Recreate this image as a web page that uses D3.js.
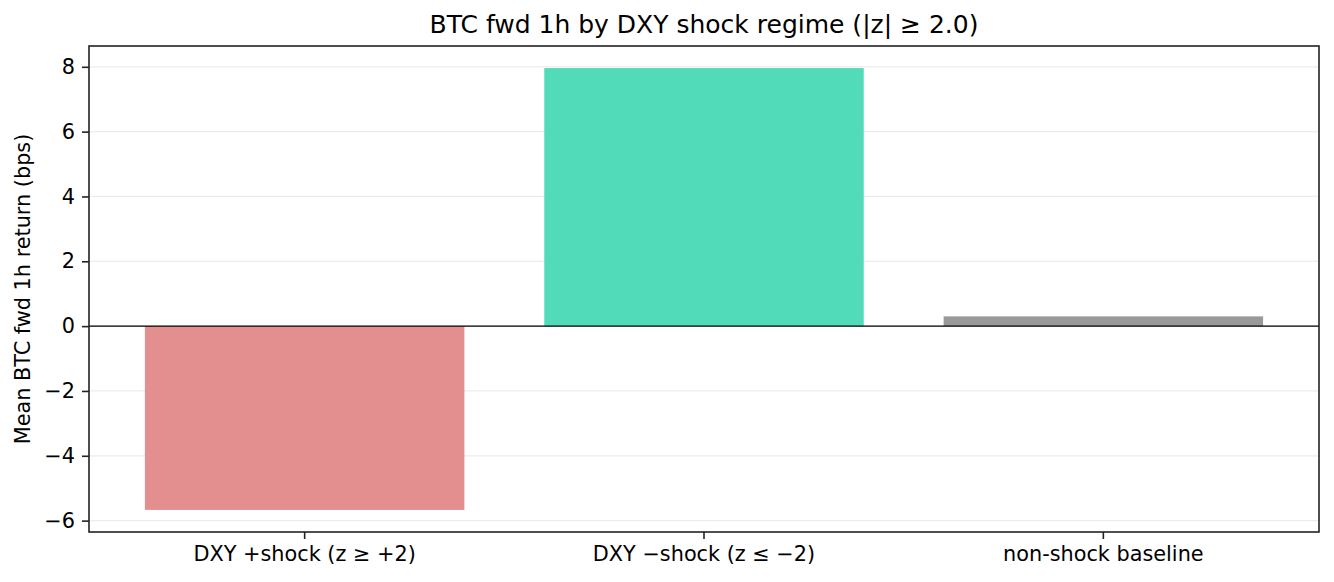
<!DOCTYPE html>
<html>
<head>
<meta charset="utf-8">
<script src="https://cdn.jsdelivr.net/npm/d3@7"></script>
<style>
  body { margin: 0; background: #fff; }
  text { font-family: "DejaVu Sans", sans-serif; fill: #000; }
</style>
</head>
<body>
<div id="chart"></div>
<script>
// regimes and their mean forward 1h BTC return (bps)
let categories = ["DXY +shock (z \u2265 +2)", "DXY \u2212shock (z \u2264 \u22122)", "non-shock baseline"];
let meanBps = [-5.67, 7.96, 0.30];
let barColors = ["#e38e8f", "#52dbb8", "#999999"];
let yTicks = [-6, -4, -2, 0, 2, 4, 6, 8];
let titleText = "BTC fwd 1h by DXY shock regime (|z| \u2265 2.0)";
let yLabel = "Mean BTC fwd 1h return (bps)";

function barChart() {
    let width = 1334, height = 582;
    let margin = {top: 46, right: 15, bottom: 50, left: 89};

    let svg = d3.select("#chart").append("svg")
                .attr("width", width)
                .attr("height", height);

    let data = categories.map(function(c, i) { return {cat: c, val: meanBps[i], color: barColors[i]} });

    // matplotlib-ish 5% margin on the value range
    let lo = d3.min(meanBps.concat([0])), hi = d3.max(meanBps.concat([0]));
    let pad = (hi - lo) * 0.05;

    let xScale = d3.scaleBand()
                   .domain(categories)
                   .range([margin.left, width - margin.right])
                   .paddingInner(0.2)
                   .paddingOuter(0.14);

    let yScale = d3.scaleLinear()
                   .domain([lo - pad, hi + pad])
                   .range([height - margin.bottom, margin.top]);

    /* grid */
    svg.append("g")
       .selectAll("line")
       .data(yTicks)
       .enter()
       .append("line")
       .attr("x1", margin.left)
       .attr("x2", width - margin.right)
       .attr("y1", function(d) { return yScale(d) })
       .attr("y2", function(d) { return yScale(d) })
       .attr("stroke", "#ececec")
       .attr("stroke-width", 1.3);

    /* bars */
    svg.append("g")
       .selectAll("rect")
       .data(data)
       .enter()
       .append("rect")
       .attr("x", function(d) { return xScale(d.cat) })
       .attr("width", xScale.bandwidth())
       .attr("y", function(d) { return yScale(Math.max(0, d.val)) })
       .attr("height", function(d) { return Math.abs(yScale(d.val) - yScale(0)) })
       .attr("fill", function(d) { return d.color });

    /* zero line */
    svg.append("line")
       .attr("x1", margin.left)
       .attr("x2", width - margin.right)
       .attr("y1", yScale(0))
       .attr("y2", yScale(0))
       .attr("stroke", "#000")
       .attr("stroke-width", 1.1);

    /* axes */
    let yAxis = d3.axisLeft(yScale)
        .tickValues(yTicks)
        .tickSize(7)
        .tickPadding(7)
        .tickFormat(function(d) { return d < 0 ? "\u2212" + Math.abs(d) : d });

    let gy = svg.append("g")
        .attr("transform", "translate(" + margin.left + ",0)")
        .call(yAxis);

    let xAxis = d3.axisBottom(xScale)
        .tickSize(7)
        .tickPadding(7);

    let gx = svg.append("g")
        .attr("transform", "translate(0," + (height - margin.bottom) + ")")
        .call(xAxis);

    [gx, gy].forEach(function(g) {
        g.select(".domain").remove();
        g.selectAll(".tick line").attr("stroke", "#222").attr("stroke-width", 1.6);
        g.selectAll(".tick text").attr("font-size", 20.8).attr("fill", "#000")
         .attr("font-family", "DejaVu Sans");
    });

    /* frame */
    svg.append("rect")
       .attr("x", margin.left)
       .attr("y", margin.top)
       .attr("width", width - margin.left - margin.right)
       .attr("height", height - margin.top - margin.bottom)
       .attr("fill", "none")
       .attr("stroke", "#222")
       .attr("stroke-width", 1.6);

    svg.append("text")
       .attr("x", (margin.left + width - margin.right) / 2)
       .attr("y", margin.top - 13)
       .attr("text-anchor", "middle")
       .attr("font-size", 25)
       .text(titleText);

    svg.append("text")
       .attr("transform", "translate(30," + ((margin.top + height - margin.bottom) / 2) + ") rotate(-90)")
       .attr("text-anchor", "middle")
       .attr("font-size", 20.8)
       .text(yLabel);
}

barChart();
</script>
</body>
</html>
